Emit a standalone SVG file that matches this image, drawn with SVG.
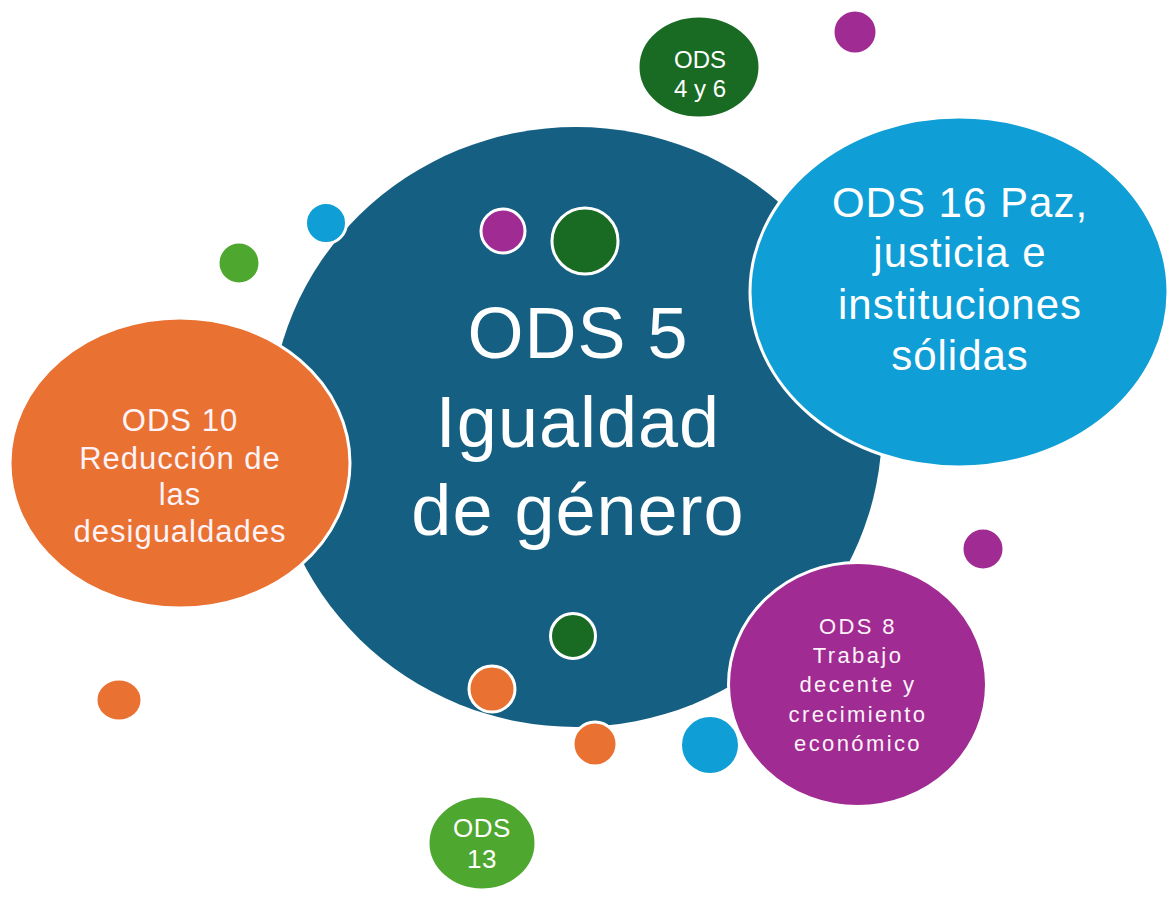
<svg xmlns="http://www.w3.org/2000/svg" width="1176" height="901" viewBox="0 0 1176 901">
<style>
.s{stroke:#ffffff;stroke-width:3}
.b1{fill:#156082}
.bl{fill:#0F9ED5}
.or{fill:#E97132}
.pu{fill:#A02B93}
.dg{fill:#196B24}
.lg{fill:#4EA72E}
text{font-family:"Liberation Sans",Arial,sans-serif;fill:#ffffff;text-anchor:middle}
.soft{fill:#fdf3f8}
</style>
<rect width="1176" height="901" fill="#ffffff"/>
<g id="ods5">
<ellipse class="b1" cx="576" cy="427" rx="306" ry="300"/>
<text font-size="72" letter-spacing="1"><tspan x="578" y="358">ODS 5</tspan><tspan x="578" y="447">Igualdad</tspan><tspan x="578" y="535">de género</tspan></text>
</g>
<g id="dots">
<circle class="bl s" cx="326" cy="223" r="20.5"/>
<circle class="lg s" cx="239" cy="263" r="21"/>
<circle class="pu s" cx="503" cy="231" r="22"/>
<circle class="dg s" cx="585" cy="241" r="33"/>
<circle class="dg s" cx="573" cy="636" r="22.5"/>
<circle class="or s" cx="492" cy="689" r="23"/>
<circle class="or s" cx="595" cy="744" r="22"/>
<circle class="bl s" cx="710" cy="745" r="29.5"/>
<circle class="pu s" cx="983" cy="549" r="21"/>
<circle class="pu s" cx="855" cy="32" r="22"/>
<ellipse class="or s" cx="119" cy="700" rx="23" ry="21"/>
</g>
<g id="ods16">
<ellipse class="bl s" cx="959" cy="292" rx="209" ry="175"/>
<text font-size="42" letter-spacing="1"><tspan x="960" y="217">ODS 16 Paz,</tspan><tspan x="960" y="267">justicia e</tspan><tspan x="960" y="319">instituciones</tspan><tspan x="960" y="370">sólidas</tspan></text>
</g>
<g id="ods10">
<ellipse class="or s" cx="180" cy="463" rx="170" ry="145"/>
<text font-size="31" letter-spacing="1" class="soft"><tspan x="180" y="431">ODS 10</tspan><tspan x="180" y="469">Reducción de</tspan><tspan x="180" y="505">las</tspan><tspan x="180" y="542">desigualdades</tspan></text>
</g>
<g id="ods8">
<ellipse class="pu s" cx="857.5" cy="684.5" rx="129" ry="122"/>
<text font-size="22" letter-spacing="2.4" class="soft"><tspan x="858" y="634">ODS 8</tspan><tspan x="858" y="663">Trabajo</tspan><tspan x="858" y="692">decente y</tspan><tspan x="858" y="722">crecimiento</tspan><tspan x="858" y="751">económico</tspan></text>
</g>
<g id="ods4y6">
<ellipse class="dg s" cx="699" cy="67" rx="61" ry="51"/>
<text font-size="24"><tspan x="700" y="68">ODS</tspan><tspan x="700" y="97">4 y 6</tspan></text>
</g>
<g id="ods13">
<ellipse class="lg s" cx="482" cy="843" rx="54" ry="47"/>
<text font-size="26" letter-spacing="0.5"><tspan x="482" y="837">ODS</tspan><tspan x="482" y="868">13</tspan></text>
</g>
<g id="connectors"></g>
</svg>
